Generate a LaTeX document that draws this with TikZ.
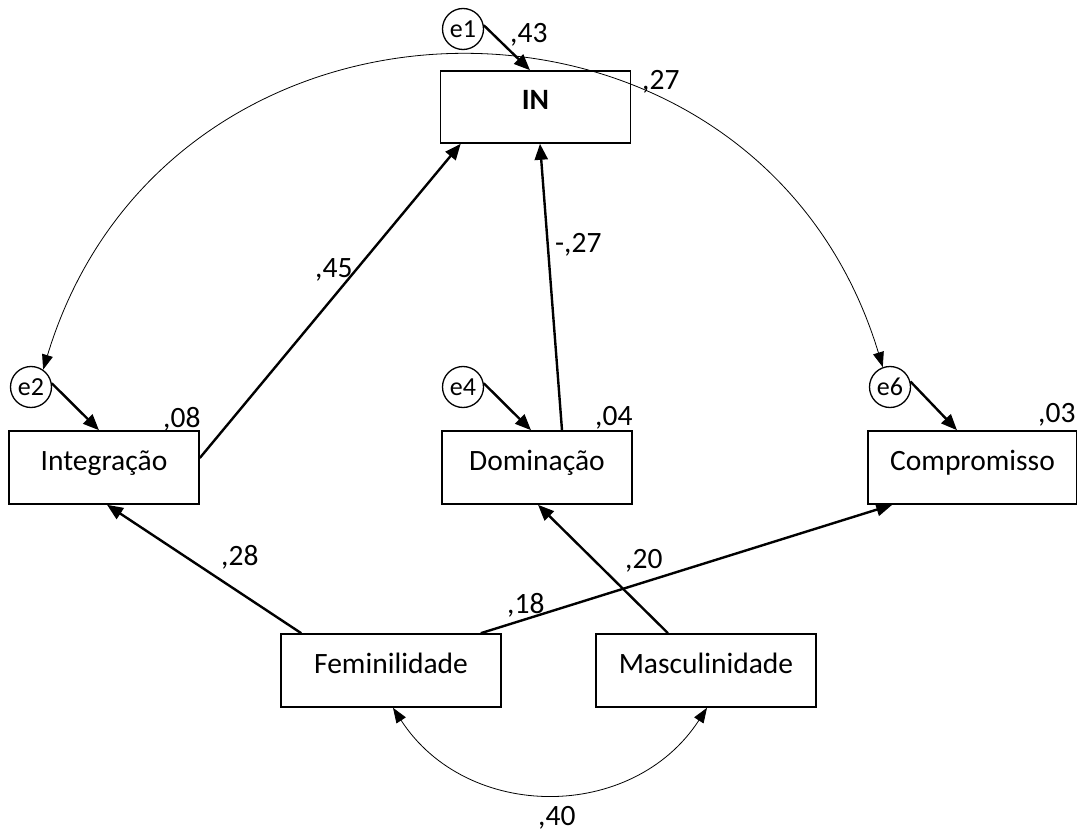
\documentclass[tikz,border=0pt]{standalone}
\usepackage{fontspec}
\setmainfont{Carlito}
\usetikzlibrary{arrows.meta}
\begin{document}
\begin{tikzpicture}[x=1pt,y=-1pt,
  box/.style={draw, line width=1.6pt, minimum width=190pt, minimum height=73pt, inner sep=0pt, text height=12pt, text depth=7pt, font=\fontsize{29.5}{34}\selectfont},
  wbox/.style={box, minimum width=220pt},
  err/.style={draw, circle, line width=1.3pt, minimum size=41pt, inner sep=0pt, font=\fontsize{26}{30}\selectfont},
  pth/.style={line width=2.4pt, -{Triangle[length=16pt,width=13pt]}},
  cov/.style={line width=0.8pt, {Triangle[length=15pt,width=11pt]}-{Triangle[length=15pt,width=11pt]}},
  lab/.style={anchor=base west, inner sep=0pt, font=\fontsize{29.5}{34}\selectfont}]
\useasboundingbox (0,0) rectangle (1077,832);

% boxes
\node[box, minimum height=72pt] (IN) at (535.5,107) {\textbf{IN}};
\node[box] (Int) at (104,467.5) {Integração};
\node[box] (Dom) at (537,467.5) {Dominação};
\node[box, minimum width=209pt] (Comp) at (972.5,467.5) {Compromisso};
\node[wbox] (Fem) at (391,670.5) {Feminilidade};
\node[wbox] (Mas) at (706,670.5) {Masculinidade};

% error terms
\node[err] (e1) at (463,29) {e1};
\node[err] (e2) at (31,387) {e2};
\node[err] (e4) at (463,387) {e4};
\node[err] (e6) at (890,387) {e6};

% paths
\draw[pth] (e1.10) -- ([xshift=-5.5pt]IN.north);
\draw[pth] (e2.10) -- ([xshift=-5pt]Int.north);
\draw[pth] (e4.10) -- ([xshift=-6pt]Dom.north);
\draw[pth] (e6.15) -- ([xshift=-15.5pt]Comp.north);
\draw[pth] ([yshift=9.5pt]Int.east) -- ([xshift=21pt]IN.south west);
\draw[pth] ([xshift=25pt]Dom.north) -- ([xshift=4.5pt]IN.south);
\draw[pth] ([xshift=21pt]Fem.north west) -- ([xshift=3pt]Int.south);
\draw[pth] ([xshift=-21pt]Fem.north east) -- ([xshift=25pt]Comp.south west);
\draw[pth] ([xshift=-38pt]Mas.north) -- ([xshift=1pt]Dom.south);

% covariances
\draw[cov] (e2.55) .. controls (169,-46) and (757,-48) .. (e6.110);
\draw[cov] ([xshift=2pt]Fem.south) .. controls (467,822) and (633,822) .. ([xshift=1pt]Mas.south);

% labels
\node[lab] (l43) at (510,43) {,43};
\node[lab] (l27a) at (642,90) {,27};
\node[lab] (l08) at (163,427) {,08};
\node[lab] (l04) at (595,425) {,04};
\node[lab] (l03) at (1038,422) {,03};
\node[lab] (l45) at (315,277) {,45};
\node[lab] (l27b) at (555,252) {-,27};
\node[lab] (l28) at (221,565) {,28};
\node[lab] (l20) at (625,568) {,20};
\node[lab] (l18) at (507,613) {,18};
\node[lab] (l40) at (538,825) {,40};
\end{tikzpicture}
\end{document}
